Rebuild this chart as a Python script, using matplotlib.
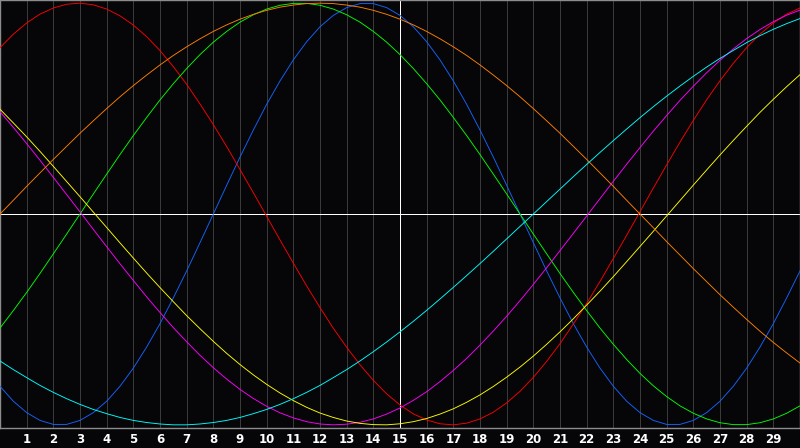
import matplotlib
matplotlib.use("Agg")
import matplotlib.pyplot as plt

# chart runs from day 0 (left edge) to day 30 (right edge), read every half day
days = [i / 2 for i in range(61)]
day_labels = [str(d) for d in range(1, 30)]
today = 15

# cycle values in percent at each half day
physical = [-81.7, -88.8, -94.2, -97.9, -99.8, -99.8, -97.9, -94.2, -88.8, -81.7,
            -73.1, -63.1, -52.0, -39.8, -27.0, -13.6, 0.0, 13.6, 27.0, 39.8,
            52.0, 63.1, 73.1, 81.7, 88.8, 94.2, 97.9, 99.8, 99.8, 97.9,
            94.2, 88.8, 81.7, 73.1, 63.1, 52.0, 39.8, 27.0, 13.6, 0.0,
            -13.6, -27.0, -39.8, -52.0, -63.1, -73.1, -81.7, -88.8, -94.2, -97.9,
            -99.8, -99.8, -97.9, -94.2, -88.8, -81.7, -73.1, -63.1, -52.0, -39.8,
            -27.0]
emotional = [78.9, 85.3, 90.6, 94.8, 97.7, 99.5, 100.0, 99.2, 97.2, 94.0,
             89.6, 84.1, 77.5, 69.9, 61.5, 52.2, 42.4, 32.0, 21.1, 10.1,
             -1.1, -12.3, -23.3, -34.1, -44.4, -54.2, -63.2, -71.5, -78.9, -85.3,
             -90.6, -94.8, -97.7, -99.5, -100.0, -99.2, -97.2, -94.0, -89.6, -84.1,
             -77.5, -69.9, -61.5, -52.2, -42.4, -32.0, -21.1, -10.1, 1.1, 12.3,
             23.3, 34.1, 44.4, 54.2, 63.2, 71.5, 78.9, 85.3, 90.6, 94.8,
             97.7]
intellectual = [-54.1, -45.8, -37.2, -28.2, -18.9, -9.5, 0.0, 9.5, 18.9, 28.2,
                37.2, 45.8, 54.1, 61.8, 69.0, 75.6, 81.5, 86.6, 91.0, 94.5,
                97.2, 99.0, 99.9, 99.9, 99.0, 97.2, 94.5, 91.0, 86.6, 81.5,
                75.6, 69.0, 61.8, 54.1, 45.8, 37.2, 28.2, 18.9, 9.5, 0.0,
                -9.5, -18.9, -28.2, -37.2, -45.8, -54.1, -61.8, -69.0, -75.6, -81.5,
                -86.6, -91.0, -94.5, -97.2, -99.0, -99.9, -99.9, -99.0, -97.2, -94.5,
                -91.0]
intuitive = [48.5, 41.1, 33.4, 25.5, 17.4, 9.2, 1.0, -7.3, -15.5, -23.6,
             -31.5, -39.3, -46.7, -53.9, -60.6, -67.0, -72.9, -78.3, -83.2, -87.5,
             -91.2, -94.3, -96.7, -98.5, -99.6, -100.0, -99.7, -98.8, -97.2, -94.9,
             -92.0, -88.4, -84.3, -79.5, -74.2, -68.5, -62.2, -55.5, -48.5, -41.1,
             -33.4, -25.5, -17.4, -9.2, -1.0, 7.3, 15.5, 23.6, 31.5, 39.3,
             46.7, 53.9, 60.6, 67.0, 72.9, 78.3, 83.2, 87.5, 91.2, 94.3,
             96.7]
aesthetic = [49.7, 43.2, 36.6, 29.7, 22.6, 15.4, 8.2, 0.9, -6.4, -13.7,
             -20.9, -28.0, -34.9, -41.6, -48.2, -54.4, -60.4, -66.1, -71.4, -76.3,
             -80.8, -84.9, -88.5, -91.7, -94.4, -96.5, -98.2, -99.3, -99.9, -100.0,
             -99.5, -98.5, -97.0, -94.9, -92.4, -89.3, -85.8, -81.8, -77.4, -72.6,
             -67.4, -61.8, -55.9, -49.7, -43.2, -36.6, -29.7, -22.6, -15.4, -8.2,
             -0.9, 6.4, 13.7, 20.9, 28.0, 34.9, 41.6, 48.2, 54.4, 60.4,
             66.1]
awareness = [0.0, 6.5, 13.1, 19.5, 25.9, 32.1, 38.3, 44.2, 50.0, 55.6,
             60.9, 65.9, 70.7, 75.2, 79.3, 83.1, 86.6, 89.7, 92.4, 94.7,
             96.6, 98.1, 99.1, 99.8, 100.0, 99.8, 99.1, 98.1, 96.6, 94.7,
             92.4, 89.7, 86.6, 83.1, 79.3, 75.2, 70.7, 65.9, 60.9, 55.6,
             50.0, 44.2, 38.3, 32.1, 25.9, 19.5, 13.1, 6.5, 0.0, -6.5,
             -13.1, -19.5, -25.9, -32.1, -38.3, -44.2, -50.0, -55.6, -60.9, -65.9,
             -70.7]
spiritual = [-69.7, -73.8, -77.6, -81.3, -84.6, -87.6, -90.3, -92.7, -94.7, -96.5,
             -97.9, -98.9, -99.6, -100.0, -100.0, -99.6, -98.9, -97.9, -96.5, -94.7,
             -92.7, -90.3, -87.6, -84.6, -81.3, -77.6, -73.8, -69.7, -65.3, -60.7,
             -55.9, -50.9, -45.7, -40.3, -34.8, -29.2, -23.5, -17.7, -11.8, -5.9,
             0.0, 5.9, 11.8, 17.7, 23.5, 29.2, 34.8, 40.3, 45.7, 50.9,
             55.9, 60.7, 65.3, 69.7, 73.8, 77.6, 81.3, 84.6, 87.6, 90.3,
             92.7]

series = [
    (physical, "#1464ff"),
    (emotional, "#ff0000"),
    (intellectual, "#00ff00"),
    (intuitive, "#ff00ff"),
    (aesthetic, "#ffff00"),
    (awareness, "#ff8000"),
    (spiritual, "#00ffff"),
]

bg = "#060609"
px = 72 / 100  # one pixel in points

fig = plt.figure(figsize=(8, 4.48), dpi=100, facecolor=bg)
ax = fig.add_axes([0, 20 / 448, 1, 428 / 448])
ax.set_facecolor(bg)

for d in range(1, 30):
    ax.axvline(d, color="#3a3a3a", lw=px, antialiased=False, zorder=1)

ax.axhline(0, color="white", lw=px, antialiased=False, zorder=2)
ax.axvline(today, color="white", lw=px, antialiased=False, zorder=2)

for vals, col in series:
    ax.plot(days, vals, color=col, lw=px * 0.9, zorder=3,
            solid_joinstyle="round")

ax.set_xlim(0, 30)
ax.set_ylim(-101.5, 101.5)
ax.set_yticks([])
ax.set_xticks(range(1, 30))
ax.set_xticklabels(day_labels, color="white", fontsize=8.5, fontweight="bold",
                   family="DejaVu Sans")
ax.tick_params(axis="x", length=0, pad=3.5)

for s in ax.spines.values():
    s.set_color("#8c8c8c")
    s.set_linewidth(px * 1.4)

fig.savefig("out.png", dpi=100, facecolor=bg)
